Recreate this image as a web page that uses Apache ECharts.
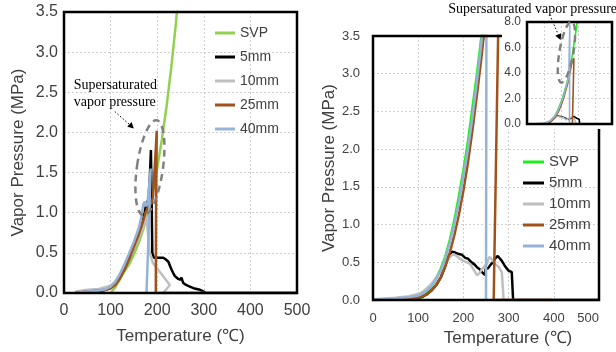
<!DOCTYPE html>
<html><head><meta charset="utf-8">
<script src="https://cdn.jsdelivr.net/npm/echarts@6/dist/echarts.min.js"></script>
<style>html,body{margin:0;padding:0;background:#fff}#c{width:616px;height:352px}</style>
</head><body><div id="c"></div>
<script>
// ---- data (temperature °C, vapor pressure MPa) ----
const seriesNames = ['SVP', '5mm', '10mm', '25mm', '40mm'];
const xTickValues = [0, 100, 200, 300, 400, 500];
const yTickMain = [0, 0.5, 1, 1.5, 2, 2.5, 3, 3.5];
const yTickInset = [0, 2, 4, 6, 8];

// left panel
const leftSVP = [[100,0.0],[110,0.07],[120,0.17],[130,0.27],[140,0.36],[150,0.48],[160,0.62],[170,0.79],[180,1.0],[190,1.25],[200,1.55],[210,1.91],[220,2.32],[230,2.8],[240,3.35],[245,3.7]];
const left5mm = [[25,0.01],[50,0.02],[75,0.02],[90,0.04],[100,0.06],[110,0.12],[120,0.2],[130,0.3],[140,0.42],[150,0.56],[160,0.7],[166,0.82],[172,0.97],[177,1.12],[181,1.16],[184,1.4],[186.5,1.78],[188,1.2],[189.5,0.5],[193,0.44],[205,0.44],[213,0.44],[218,0.42],[224,0.39],[228,0.33],[231,0.29],[235,0.24],[238,0.21],[244,0.18],[249,0.165],[252,0.19],[256,0.124],[262,0.1],[270,0.08],[278,0.06],[285,0.05],[292,0.04],[299,0.02],[305,0.0],[500,0.0]];
const left10mm = [[25,0.02],[50,0.04],[75,0.05],[100,0.09],[110,0.14],[120,0.22],[130,0.31],[140,0.42],[150,0.55],[160,0.68],[170,0.82],[177,0.95],[180,0.75],[184,0.5],[191,0.37],[210,0.23],[227,0.1],[231,0.12],[213,0.0],[500,0.0]];
const left25mm = [[25,0.0],[50,0.02],[75,0.03],[90,0.04],[100,0.06],[110,0.1],[120,0.18],[130,0.3],[140,0.43],[150,0.58],[160,0.72],[170,0.9],[175,1.0],[181,1.08],[188,1.12],[191,1.2],[194,1.5],[197,1.8],[199,2.02],[197.5,1.0],[197,0.0],[500,0.0]];
const left40mm = [[25,0.0],[50,0.02],[75,0.03],[90,0.05],[100,0.08],[110,0.14],[120,0.24],[130,0.36],[140,0.5],[150,0.64],[160,0.8],[165,0.92],[170,1.1],[173,1.14],[176,1.08],[179,1.12],[183,1.35],[186,1.55],[182,0.8],[177,0.0]];

// right panel (also used by the inset)
const rightSVP = [[100,0],[110,0.04],[120,0.1],[130,0.18],[140,0.29],[150,0.42],[160,0.58],[170,0.8],[180,1.06],[190,1.38],[200,1.72],[210,2.1],[220,2.55],[230,3.0],[240,3.5],[250,4.1],[260,4.85],[270,5.7],[280,6.6],[290,7.5],[296,8.1]];
const right5mm = [[0,0.0],[50,0.01],[100,0.03],[110,0.05],[120,0.08],[130,0.13],[140,0.2],[150,0.3],[160,0.45],[168,0.6],[175,0.64],[182,0.63],[190,0.61],[197,0.6],[204,0.56],[210,0.55],[218,0.5],[225,0.47],[230,0.435],[236,0.41],[241,0.37],[245,0.35],[248,0.33],[249,0.41],[254,0.42],[259,0.46],[265,0.5],[270,0.55],[276,0.585],[280,0.56],[285,0.52],[292,0.45],[300,0.39],[307,0.37],[311,0.37],[310,0.0],[500,0.0]];
const right10mm = [[0,0.01],[50,0.03],[80,0.05],[100,0.08],[110,0.11],[120,0.16],[130,0.22],[140,0.3],[150,0.38],[160,0.47],[170,0.57],[178,0.61],[190,0.56],[200,0.52],[215,0.48],[225,0.38],[230,0.33],[236,0.36],[241,0.41],[247,0.45],[252,0.48],[257,0.57],[262,0.55],[270,0.48],[278,0.44],[285,0.37],[289,0.35],[289,0.0],[400,0.0]];
const right25mm = [[0,0.0],[50,0.01],[100,0.03],[110,0.05],[120,0.08],[130,0.13],[140,0.2],[150,0.3],[160,0.45],[170,0.63],[180,0.86],[190,1.13],[200,1.45],[210,1.82],[220,2.25],[230,2.72],[240,3.22],[245,3.5],[255,4.2],[265,4.9],[276,5.15],[281,5.0],[267,0.0],[395,0.0]];
const right40mm = [[0,0.0],[20,0.01],[50,0.02],[80,0.04],[100,0.06],[110,0.09],[120,0.13],[130,0.19],[140,0.28],[150,0.4],[160,0.55],[170,0.76],[180,1.0],[190,1.3],[200,1.64],[210,2.0],[220,2.42],[230,2.9],[240,3.42],[244,3.8],[247,4.6],[249,6.0],[252,7.8],[250,0.0]];

const leftColors = ['#92D050', '#000000', '#BFBFBF', '#A0521A', '#95B3D7'];
const rightColors = ['#1EF01E', '#000000', '#BFBFBF', '#A0521A', '#95B3D7'];

// annotation anchors in data units
const leftEllipse = { center: [184.4, 1.56], rx: 13, ry: 48, tilt: -0.14 };
const leftArrow = { from: [109, 2.26], to: [150, 2.05] };
const leftNote = { at: [21, 2.48], text: 'Supersaturated\nvapor pressure' };
const insetEllipse = { center: [232, 5.65], rx: 7, ry: 31, tilt: -0.17 };
const insetArrow = { from: [142, 8.31], to: [198, 6.59] };
const rightNote = { at: [166.6, 3.85], text: 'Supersaturated vapor pressure' };

const leftData = [leftSVP, left5mm, left10mm, left25mm, left40mm];
const rightData = [rightSVP, right5mm, right10mm, right25mm, right40mm];
const rightNames = seriesNames.map(n => n + ' ');

const chart = echarts.init(document.getElementById('c'), null, { renderer: 'canvas' });
const sans = '"Liberation Sans", Arial, sans-serif';
const gridLine = { color: '#cfcfcf', type: [2, 2], width: 1 };
const split = { show: true, showMinLine: false, showMaxLine: false, lineStyle: gridLine };

function xAxis(gi, extra) {
  return Object.assign({
    type: 'value', gridIndex: gi, min: 0, max: 500, interval: 100,
    axisLine: { show: false }, axisTick: { show: false },
    splitLine: split,
    axisLabel: { fontFamily: sans, fontSize: 16, color: '#404040', margin: 10 },
    nameLocation: 'middle', name: 'Temperature (℃)',
    nameTextStyle: { fontFamily: sans, fontSize: 17, color: '#404040' }
  }, extra);
}
function yAxis(gi, extra) {
  return Object.assign({
    type: 'value', gridIndex: gi, min: 0, max: 3.5, interval: 0.5,
    axisLine: { show: false }, axisTick: { show: false },
    splitLine: split,
    axisLabel: { fontFamily: sans, fontSize: 16, color: '#404040', formatter: v => v.toFixed(1), margin: 6 },
    nameLocation: 'middle', name: 'Vapor Pressure (MPa)', nameRotate: 90,
    nameTextStyle: { fontFamily: sans, fontSize: 17, color: '#404040' }
  }, extra);
}

const series = [];
leftData.forEach((d, i) => series.push({
  type: 'line', name: seriesNames[i], xAxisIndex: 0, yAxisIndex: 0, data: d,
  symbol: 'none', color: leftColors[i], lineStyle: { width: 2.5 }, animation: false
}));
rightData.forEach((d, i) => series.push({
  type: 'line', name: rightNames[i], xAxisIndex: 1, yAxisIndex: 1, data: d,
  symbol: 'none', color: rightColors[i], lineStyle: { width: 2.5 }, animation: false
}));
rightData.forEach((d, i) => series.push({
  type: 'line', name: rightNames[i], xAxisIndex: 2, yAxisIndex: 2, data: d, zlevel: 1,
  symbol: 'none', color: rightColors[i], lineStyle: { width: 1.6 }, animation: false
}));

const option = {
  animation: false,
  backgroundColor: '#fff',
  grid: [
    { left: 64, top: 12, width: 233, height: 281, show: true, borderColor: '#000', borderWidth: 2.5, backgroundColor: 'transparent', z: 5 },
    { left: 373, top: 36, width: 226, height: 271, show: true, borderColor: '#000', borderWidth: 2.5, backgroundColor: 'transparent', z: 5 },
    { left: 527, top: 22, width: 85, height: 102, show: true, borderColor: '#000', borderWidth: 2.5, backgroundColor: 'transparent', zlevel: 1, z: 5 }
  ],
  xAxis: [
    xAxis(0, { nameGap: 35 }),
    xAxis(1, { nameGap: 27, axisLabel: { fontFamily: sans, fontSize: 13, color: '#404040', margin: 12, alignMaxLabel: 'right' },
               nameTextStyle: { fontFamily: sans, fontSize: 17, color: '#404040', padding: [0, 0, 0, 44] } }),
    xAxis(2, { name: '', axisLabel: { show: false }, zlevel: 1, z: 3 })
  ],
  yAxis: [
    yAxis(0, { nameGap: 37 }),
    yAxis(1, { nameGap: 32, axisLabel: { fontFamily: sans, fontSize: 13, color: '#404040', formatter: v => v.toFixed(1), margin: 13 } }),
    yAxis(2, { name: '', max: 8, interval: 2, zlevel: 1, z: 3,
               axisLabel: { fontFamily: sans, fontSize: 12, color: '#404040', formatter: v => v.toFixed(1), margin: 6 } })
  ],
  legend: [
    { orient: 'vertical', left: 210, top: 20, itemWidth: 20, itemHeight: 3, icon: 'rect', itemGap: 8, selectedMode: false,
      data: seriesNames, textStyle: { fontFamily: sans, fontSize: 14, lineHeight: 16, color: '#404040' } },
    { orient: 'vertical', left: 518, top: 149, itemWidth: 21, itemHeight: 3, icon: 'rect', itemGap: 5, selectedMode: false,
      data: rightNames, textStyle: { fontFamily: sans, fontSize: 15, lineHeight: 16, color: '#404040' } }
  ],
  series: series
};
chart.setOption(option);

// ---- annotations, anchored through the axes ----
const px = (g, pt) => chart.convertToPixel({ gridIndex: g }, pt);
function ellipse(g, e, zl) {
  const c = px(g, e.center);
  return { type: 'ellipse', x: c[0], y: c[1], rotation: e.tilt, zlevel: zl, z: 50,
    shape: { cx: 0, cy: 0, rx: e.rx, ry: e.ry }, silent: true,
    style: { fill: 'none', stroke: '#808080', lineWidth: 2.5, lineDash: [7, 5] } };
}
function arrow(g, a, zl) {
  const p0 = px(g, a.from), p1 = px(g, a.to);
  const dx = p1[0] - p0[0], dy = p1[1] - p0[1], L = Math.hypot(dx, dy);
  const ux = dx / L, uy = dy / L, hl = 6, hw = 3.2;
  const bx = p1[0] - ux * hl, by = p1[1] - uy * hl;
  return [
    { type: 'line', zlevel: zl, z: 51, silent: true, shape: { x1: p0[0], y1: p0[1], x2: bx, y2: by },
      style: { stroke: '#000', lineWidth: 1, lineDash: [1.5, 2] } },
    { type: 'polygon', zlevel: zl, z: 51, silent: true,
      shape: { points: [[p1[0], p1[1]], [bx - uy * hw, by + ux * hw], [bx + uy * hw, by - ux * hw]] },
      style: { fill: '#000' } }
  ];
}
function note(g, n, zl) {
  const p = px(g, n.at);
  return { type: 'text', x: p[0], y: p[1], zlevel: zl, z: 52, silent: true,
    style: { text: n.text, fontFamily: '"Liberation Serif", "Times New Roman", serif', fontSize: 14,
      lineHeight: 17, fill: '#000', align: 'left', verticalAlign: 'middle' } };
}
const tl = px(2, [0, 8]), br = px(2, [500, 0]);
const cover = { type: 'rect', zlevel: 1, z: -10, silent: true,
  shape: { x: tl[0] - 25, y: 0, width: 616 - (tl[0] - 25), height: br[1] + 5 }, style: { fill: '#fff' } };

chart.setOption({ graphic: [cover, ellipse(0, leftEllipse, 0), ...arrow(0, leftArrow, 0), note(0, leftNote, 0),
  ellipse(2, insetEllipse, 1), ...arrow(2, insetArrow, 1), note(1, rightNote, 1)] });
</script></body></html>
